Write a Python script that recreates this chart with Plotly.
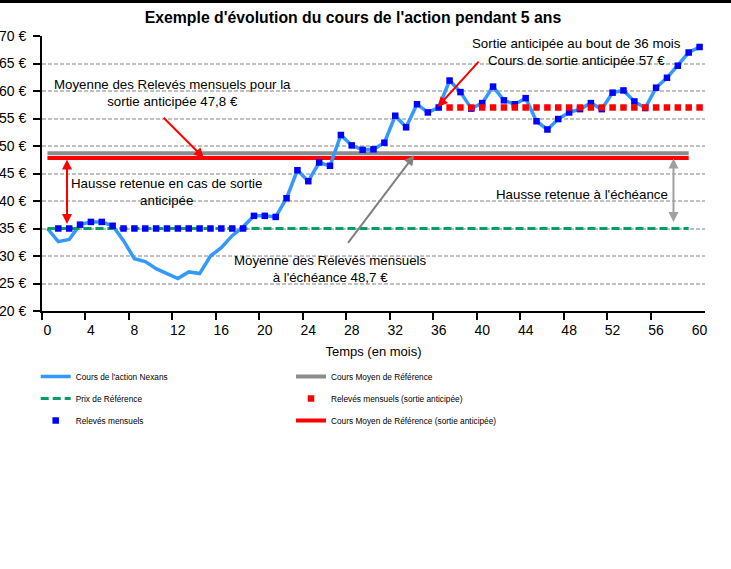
import plotly.graph_objects as go

# ---------------- data ----------------
MONTHS = list(range(0, 61))
COURS_NEXANS = [35.0, 32.6, 33.0, 35.7, 36.2, 36.2, 35.5, 32.8, 29.5, 29.0,
                27.7, 26.8, 25.9, 27.1, 26.8, 30.0, 31.5, 33.7, 35.3, 37.3,
                37.3, 37.1, 40.5, 45.6, 43.6, 47.0, 46.4, 52.0, 50.1, 49.3,
                49.4, 50.6, 55.5, 53.4, 57.6, 56.1, 57.0, 61.9, 59.8, 56.8,
                57.8, 60.8, 58.3, 57.6, 58.7, 54.5, 53.0, 54.9, 56.1, 56.7,
                57.8, 56.7, 59.7, 60.1, 58.1, 56.9, 60.6, 62.4, 64.6, 67.0,
                68.0]

RELEVES_MOIS = list(range(1, 61))
RELEVES = [35.0, 35.0, 35.7, 36.2, 36.2, 35.5, 35.0, 35.0, 35.0, 35.0,
           35.0, 35.0, 35.0, 35.0, 35.0, 35.0, 35.0, 35.0, 37.3, 37.3,
           37.1, 40.5, 45.6, 43.6, 47.0, 46.4, 52.0, 50.1, 49.3, 49.4,
           50.6, 55.5, 53.4, 57.6, 56.1, 57.0, 61.9, 59.8, 56.8, 57.8,
           60.8, 58.3, 57.6, 58.7, 54.5, 53.0, 54.9, 56.1, 56.7, 57.8,
           56.7, 59.7, 60.1, 58.1, 56.9, 60.6, 62.4, 64.6, 67.0, 68.0]

SORTIE_MOIS = list(range(37, 61))
RELEVES_SORTIE = [57, 57, 57, 57, 57, 57, 57, 57, 57, 57, 57, 57,
                  57, 57, 57, 57, 57, 57, 57, 57, 57, 57, 57, 57]

REF_MOIS = [0, 59]
PRIX_REFERENCE = [35.0, 35.0]
COURS_MOYEN_REF = [48.7, 48.7]
COURS_MOYEN_SORTIE = [47.8, 47.8]

X_TICKS = [0, 4, 8, 12, 16, 20, 24, 28, 32, 36, 40, 44, 48, 52, 56, 60]
Y_TICKS = [20, 25, 30, 35, 40, 45, 50, 55, 60, 65, 70]
Y_TICK_LABELS = ["20 €", "25 €", "30 €", "35 €", "40 €", "45 €",
                 "50 €", "55 €", "60 €", "65 €", "70 €"]

TITLE = "Exemple d'évolution du cours de l'action pendant 5 ans"
X_TITLE = "Temps (en mois)"

# ---------------- style ----------------
FONT = "Liberation Sans, Arial, sans-serif"
LEG_FONT = "Liberation Sans Narrow, Arial Narrow, Liberation Sans, Arial, sans-serif"
BLUE_LINE = "rgb(51,153,255)"
GREEN = "rgb(0,160,100)"
GRAY = "rgb(140,140,140)"
RED = "rgb(255,0,0)"
BLUE_MK = "rgb(0,0,255)"

W, H = 731, 569
ML, MR, MT, MB = 42, 26, 36, 258
PH = H - MT - MB

fig = go.Figure()

fig.add_trace(go.Scatter(x=REF_MOIS, y=COURS_MOYEN_REF, mode="lines",
                         name="Cours Moyen de Référence",
                         line=dict(color=GRAY, width=4),
                         legend="legend2", legendgroup="g4", legendrank=1))
fig.add_trace(go.Scatter(x=REF_MOIS, y=COURS_MOYEN_SORTIE, mode="lines",
                         name="Cours Moyen de Référence (sortie anticipée)",
                         line=dict(color=RED, width=4),
                         legend="legend2", legendgroup="g6", legendrank=3))
fig.add_trace(go.Scatter(x=MONTHS, y=COURS_NEXANS, mode="lines",
                         name="Cours de l'action Nexans",
                         line=dict(color=BLUE_LINE, width=3.5),
                         legend="legend", legendgroup="g1", legendrank=1))
fig.add_trace(go.Scatter(x=REF_MOIS, y=PRIX_REFERENCE, mode="lines",
                         name="Prix de Référence",
                         line=dict(color=GREEN, width=3, dash="8px,4px"),
                         legend="legend", legendgroup="g2", legendrank=2))
fig.add_trace(go.Scatter(x=RELEVES_MOIS, y=RELEVES, mode="markers",
                         name="Relevés mensuels",
                         marker=dict(color=BLUE_MK, size=6.5, symbol="square",
                                     line=dict(width=0)),
                         legend="legend", legendgroup="g3", legendrank=3))
fig.add_trace(go.Scatter(x=SORTIE_MOIS, y=RELEVES_SORTIE, mode="markers",
                         name="Relevés mensuels (sortie anticipée)",
                         marker=dict(color=RED, size=6.5, symbol="square",
                                     line=dict(width=0)),
                         legend="legend2", legendgroup="g5", legendrank=2))

def px_to_paper_x(px):
    return (px - ML) / (W - ML - MR)

def px_to_paper_y(py):
    return (H - MB - py) / PH

legend_common = dict(orientation="v", xanchor="left", yanchor="top",
                     traceorder="grouped", tracegroupgap=3,
                     bgcolor="rgba(0,0,0,0)", borderwidth=0,
                     font=dict(family=LEG_FONT, size=8.3, color="black"),
                     itemclick=False, itemdoubleclick=False)

fig.update_layout(
    width=W, height=H,
    template="none",
    paper_bgcolor="white", plot_bgcolor="white",
    margin=dict(l=ML, r=MR, t=MT, b=MB, autoexpand=False),
    showlegend=True,
    title=dict(text="<b>" + TITLE + "</b>", x=353 / W, xref="container",
               xanchor="center", y=1 - 17 / H, yref="container",
               yanchor="middle",
               font=dict(family=FONT, size=15.8, color="black")),
    legend=dict(x=px_to_paper_x(35.7), y=px_to_paper_y(362), **legend_common),
    legend2=dict(x=px_to_paper_x(291), y=px_to_paper_y(362), **legend_common),
    xaxis=dict(range=[-0.5, 60.5], tickmode="array", tickvals=X_TICKS,
               ticks="", showgrid=False, zeroline=False,
               showline=True, linecolor="black", linewidth=2,
               automargin=False, ticklabelstandoff=5,
               tickfont=dict(family=FONT, size=14, color="black"),
               minor=dict(tickmode="array",
                          tickvals=[t - 0.5 for t in X_TICKS[:-1]],
                          ticks="outside", ticklen=7, tickwidth=2,
                          tickcolor="black", showgrid=False),
               title=dict(text=X_TITLE, standoff=10,
                          font=dict(family=FONT, size=13, color="black"))),
    yaxis=dict(range=[20, 70], tickmode="array", tickvals=Y_TICKS,
               ticktext=Y_TICK_LABELS,
               ticks="outside", ticklen=7, tickwidth=2,
               tickcolor="black", showline=True, linecolor="black",
               linewidth=2, zeroline=False, automargin=False,
               ticklabelstandoff=4,
               showgrid=True, gridcolor="rgb(192,192,192)", gridwidth=1.5,
               griddash="4px,2px",
               tickfont=dict(family=FONT, size=14, color="black")),
)

# top frame band
fig.add_shape(type="rect", xref="paper", yref="paper",
              x0=-0.2, x1=1.2, y0=px_to_paper_y(3), y1=px_to_paper_y(-3),
              line=dict(width=0), fillcolor="black", layer="above")

TXT = dict(family=FONT, size=13.3, color="black")

def text_ann(x, y, text):
    fig.add_annotation(x=x, y=y, xref="x", yref="y", text=text,
                       showarrow=False, font=TXT, align="center",
                       xanchor="center", yanchor="middle")

def arrow(x, y, ax, ay, color, both=False):
    fig.add_annotation(x=x, y=y, ax=ax, ay=ay, xref="x", yref="y",
                       axref="x", ayref="y", text="", showarrow=True,
                       arrowhead=2, arrowsize=1, arrowwidth=2,
                       arrowcolor=color, standoff=0, startstandoff=0,
                       arrowside="end+start" if both else "end",
                       startarrowhead=2, startarrowsize=1)

text_ann(11.5, 59.7, "Moyenne des Relevés mensuels pour la<br>sortie anticipée 47,8 €")
text_ann(10.95, 41.6, "Hausse retenue en cas de sortie<br>anticipée")
text_ann(48.65, 67.1, "Sortie anticipée au bout de 36 mois<br>Cours de sortie anticipée 57 €")
text_ann(26.0, 27.6, "Moyenne des Relevés mensuels<br>à l'échéance 48,7 €")
text_ann(49.2, 41.2, "Hausse retenue à l'échéance")

arrow(14.4, 47.8, 10.55, 55.4, RED)
arrow(1.8, 35.8, 1.8, 47.8, RED, both=True)
arrow(35.9, 57.1, 39.8, 65.6, RED)
arrow(33.75, 48.3, 27.55, 32.1, "rgb(128,128,128)")
arrow(57.6, 36.2, 57.6, 48.0, "rgb(160,160,160)", both=True)

fig.write_html("out.html",
               config={"displayModeBar": False},
               post_script="document.body.style.margin='0';")
